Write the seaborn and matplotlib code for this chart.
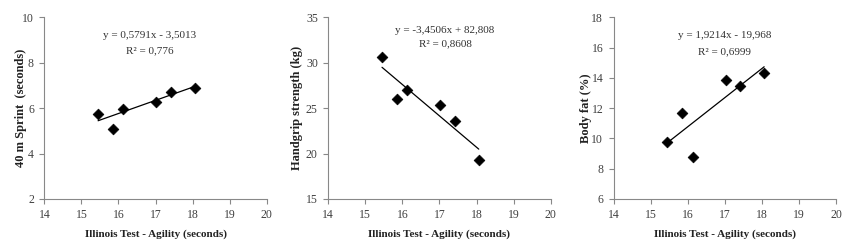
import matplotlib
matplotlib.use("Agg")
import matplotlib.pyplot as plt
import seaborn as sns
import numpy as np
import pandas as pd

# Data
agility = [15.45, 15.85, 16.13, 17.02, 17.42, 18.06]
sprint = [5.75, 5.10, 5.97, 6.25, 6.73, 6.87]
handgrip = [30.6, 26.0, 27.0, 25.4, 23.6, 19.3]
bodyfat = [9.75, 11.65, 8.8, 13.85, 13.45, 14.35]

slopes = [0.5791, -3.4506, 1.9214]
intercepts = [-3.5013, 82.808, -19.968]
eq_texts = ["y = 0,5791x - 3,5013", "y = -3,4506x + 82,808", "y = 1,9214x - 19,968"]
r2_texts = ["R\u00b2 = 0,776", "R\u00b2 = 0,8608", "R\u00b2 = 0,6999"]
ylabels = ["40 m Sprint  (seconds)", "Handgrip strength (kg)", "Body fat (%)"]
xlabel = "Illinois Test - Agility (seconds)"
ylims = [(2, 10), (15, 35), (6, 18)]
yticks = [[2, 4, 6, 8, 10], [15, 20, 25, 30, 35], [6, 8, 10, 12, 14, 16, 18]]
xticks = [14, 15, 16, 17, 18, 19, 20]
text_pos = [(16.85, 9.22, 8.52), (17.15, 33.6, 32.1), (16.99, 16.77, 15.73)]

sns.set_theme(style="white")
plt.rcParams['font.family'] = ['Liberation Serif', 'DejaVu Serif']

fig = plt.figure(figsize=(8.56, 2.48), dpi=100)
lefts = [0.0518, 0.3835, 0.7169]
ylabel_coords = [-0.079, -0.114, -0.098]
ys_all = [sprint, handgrip, bodyfat]

for i in range(3):
    ax = fig.add_axes([lefts[i], 0.1976, 0.2598, 0.7326])
    df = pd.DataFrame({"x": agility, "y": ys_all[i]})
    xl = np.array([min(agility), max(agility)])
    line_df = pd.DataFrame({"x": xl, "y": slopes[i] * xl + intercepts[i]})
    sns.lineplot(data=line_df, x="x", y="y", ax=ax, color="black", linewidth=0.9)
    sns.scatterplot(data=df, x="x", y="y", ax=ax, marker="D", s=30, color="black",
                    edgecolor="black", linewidth=0.5, zorder=3)
    ax.set_xlim(14, 20)
    ax.set_ylim(*ylims[i])
    ax.set_xticks(xticks)
    ax.set_yticks(yticks[i])
    ax.tick_params(axis="both", labelsize=8.5, labelcolor="#404040", length=3.5, width=0.8,
                   direction="out", bottom=True, left=True, color="#888888")
    ax.tick_params(axis="y", pad=4)
    ax.tick_params(axis="x", pad=4)
    for s in ["top", "right"]:
        ax.spines[s].set_visible(False)
    for s in ["left", "bottom"]:
        ax.spines[s].set_color("#888888")
        ax.spines[s].set_linewidth(0.8)
    ax.set_xlabel(xlabel, fontsize=8, fontweight="bold", color="#222222", labelpad=6)
    ax.set_ylabel(ylabels[i], fontsize=9, fontweight="bold", color="#222222")
    ax.yaxis.set_label_coords(ylabel_coords[i], 0.5)
    tx, ty1, ty2 = text_pos[i]
    ax.text(tx, ty1, eq_texts[i], ha="center", va="center", fontsize=8, color="#333333")
    ax.text(tx, ty2, r2_texts[i], ha="center", va="center", fontsize=8, color="#333333")

fig.savefig("out.png", dpi=100, facecolor="white")
